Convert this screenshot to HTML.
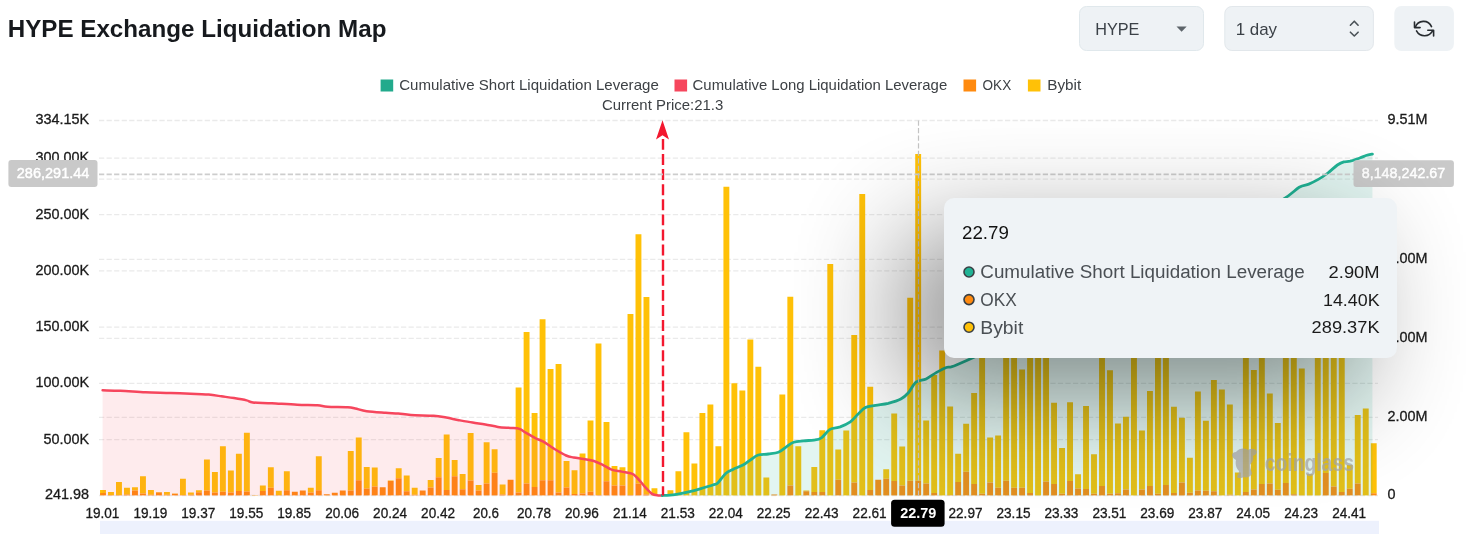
<!DOCTYPE html>
<html lang="en"><head><meta charset="utf-8"><title>HYPE Exchange Liquidation Map</title>
<style>html,body{margin:0;padding:0;background:#fff;overflow:hidden}body{width:1466px;height:534px;position:relative;font-family:'Liberation Sans', sans-serif}.tt{position:absolute;left:943.7px;top:198.4px;width:453.8px;height:159.8px;border-radius:10px;background:#EFF3F6;box-shadow:none}</style>
</head><body>
<svg width="1466" height="534" viewBox="0 0 1466 534" style="position:absolute;left:0;top:0;font-family:'Liberation Sans', sans-serif">
<defs>
<filter id="tts" filterUnits="userSpaceOnUse" x="500" y="-100" width="1300" height="900" color-interpolation-filters="sRGB">
<feGaussianBlur in="SourceAlpha" stdDeviation="55"/><feOffset dx="-40" dy="35"/>
<feComponentTransfer><feFuncA type="linear" slope="0.45"/></feComponentTransfer>
</filter>
<clipPath id="plot"><rect x="0" y="0" width="1466" height="495.7"/></clipPath>
</defs>
<rect width="1466" height="534" fill="#fff"/>
<text x="7.8" y="36.6" font-size="24" font-weight="700" fill="#16191d" textLength="378.6" lengthAdjust="spacingAndGlyphs">HYPE Exchange Liquidation Map</text>
<rect x="1079.5" y="6.5" width="124" height="44" rx="7" fill="#EEF2F5" stroke="#E0E8EC"/>
<text x="1095.2" y="34.7" font-size="16.6" fill="#3b4147" textLength="44.2" lengthAdjust="spacingAndGlyphs">HYPE</text>
<path d="M1176.5 26.4h10.2l-5.1 5.4z" fill="#5d646a"/>
<rect x="1224.8" y="6.5" width="148.6" height="44" rx="7" fill="#EEF2F5" stroke="#E2E7EB"/>
<text x="1235.7" y="35" font-size="16.6" fill="#3b4147" textLength="41.4" lengthAdjust="spacingAndGlyphs">1 day</text>
<path d="M1350.4 25.2l3.9-4 3.8 4M1350.4 32.2l3.9 3.8 3.8-3.8" fill="none" stroke="#4a5257" stroke-width="1.6" stroke-linecap="round" stroke-linejoin="round"/>
<rect x="1394.3" y="6" width="59.6" height="45" rx="7" fill="#EEF2F5"/>
<g fill="none" stroke="#272c30" stroke-width="1.6" stroke-linecap="round" stroke-linejoin="round"><path d="M1431.5 26.6A8.7 8.7 0 0 0 1415.3 27.3"/><path d="M1414.5 22v5.6h5.6"/><path d="M1416.5 30.9A9.1 9.1 0 0 0 1432.7 30.6"/><path d="M1427.8 30.3h5.8v5.7"/></g>
<rect x="380.6" y="79.5" width="12.6" height="12" fill="#22AA8C"/>
<text x="399.2" y="90.2" font-size="14.3" fill="#3d4145" textLength="259.6" lengthAdjust="spacingAndGlyphs">Cumulative Short Liquidation Leverage</text>
<rect x="674.5" y="79.5" width="12.6" height="12" fill="#F6465D"/>
<text x="692.6" y="90.2" font-size="14.3" fill="#3d4145" textLength="254.6" lengthAdjust="spacingAndGlyphs">Cumulative Long Liquidation Leverage</text>
<rect x="963.5" y="79.5" width="12.6" height="12" fill="#FF8A0F"/>
<text x="982.6" y="90.2" font-size="14.3" fill="#3d4145" textLength="28.6" lengthAdjust="spacingAndGlyphs">OKX</text>
<rect x="1027.9" y="79.5" width="12.6" height="12" fill="#FFC107"/>
<text x="1047.3" y="90.2" font-size="14.3" fill="#3d4145" textLength="33.9" lengthAdjust="spacingAndGlyphs">Bybit</text>
<text x="602" y="110" font-size="14.3" fill="#3d4145" textLength="121.2" lengthAdjust="spacingAndGlyphs">Current Price:21.3</text>
<path d="M99 120.5H1378" stroke="#EAEAEA" stroke-width="1.3" stroke-dasharray="5.25 2.3"/>
<path d="M99 158.2H1378" stroke="#EAEAEA" stroke-width="1.3" stroke-dasharray="5.25 2.3"/>
<path d="M99 214.6H1378" stroke="#EAEAEA" stroke-width="1.3" stroke-dasharray="5.25 2.3"/>
<path d="M99 270.8H1378" stroke="#EAEAEA" stroke-width="1.3" stroke-dasharray="5.25 2.3"/>
<path d="M99 327.2H1378" stroke="#EAEAEA" stroke-width="1.3" stroke-dasharray="5.25 2.3"/>
<path d="M99 383.4H1378" stroke="#EAEAEA" stroke-width="1.3" stroke-dasharray="5.25 2.3"/>
<path d="M99 439.7H1378" stroke="#EAEAEA" stroke-width="1.3" stroke-dasharray="5.25 2.3"/>
<path d="M99 495.5H1378" stroke="#EAEAEA" stroke-width="1.3" stroke-dasharray="5.25 2.3"/>
<path d="M99 179.2H1378" stroke="#EAEAEA" stroke-width="1.3" stroke-dasharray="5.25 2.3"/>
<path d="M99 259.4H1378" stroke="#EAEAEA" stroke-width="1.3" stroke-dasharray="5.25 2.3"/>
<path d="M99 338.4H1378" stroke="#EAEAEA" stroke-width="1.3" stroke-dasharray="5.25 2.3"/>
<path d="M99 417.3H1378" stroke="#EAEAEA" stroke-width="1.3" stroke-dasharray="5.25 2.3"/>
<text x="89" y="124.4" font-size="14.4" fill="#1a1a1a" stroke="#1a1a1a" stroke-width="0.3" text-anchor="end">334.15K</text>
<text x="89" y="162.1" font-size="14.4" fill="#1a1a1a" stroke="#1a1a1a" stroke-width="0.3" text-anchor="end">300.00K</text>
<text x="89" y="218.5" font-size="14.4" fill="#1a1a1a" stroke="#1a1a1a" stroke-width="0.3" text-anchor="end">250.00K</text>
<text x="89" y="274.7" font-size="14.4" fill="#1a1a1a" stroke="#1a1a1a" stroke-width="0.3" text-anchor="end">200.00K</text>
<text x="89" y="331.1" font-size="14.4" fill="#1a1a1a" stroke="#1a1a1a" stroke-width="0.3" text-anchor="end">150.00K</text>
<text x="89" y="387.3" font-size="14.4" fill="#1a1a1a" stroke="#1a1a1a" stroke-width="0.3" text-anchor="end">100.00K</text>
<text x="89" y="443.6" font-size="14.4" fill="#1a1a1a" stroke="#1a1a1a" stroke-width="0.3" text-anchor="end">50.00K</text>
<text x="89" y="499.4" font-size="14.4" fill="#1a1a1a" stroke="#1a1a1a" stroke-width="0.3" text-anchor="end">241.98</text>
<text x="1387.5" y="124.4" font-size="14.4" fill="#1a1a1a" stroke="#1a1a1a" stroke-width="0.3">9.51M</text>
<text x="1387.5" y="183.1" font-size="14.4" fill="#1a1a1a" stroke="#1a1a1a" stroke-width="0.3">8.00M</text>
<text x="1387.5" y="263.3" font-size="14.4" fill="#1a1a1a" stroke="#1a1a1a" stroke-width="0.3">6.00M</text>
<text x="1387.5" y="342.3" font-size="14.4" fill="#1a1a1a" stroke="#1a1a1a" stroke-width="0.3">4.00M</text>
<text x="1387.5" y="421.2" font-size="14.4" fill="#1a1a1a" stroke="#1a1a1a" stroke-width="0.3">2.00M</text>
<text x="1387.5" y="499.4" font-size="14.4" fill="#1a1a1a" stroke="#1a1a1a" stroke-width="0.3">0</text>
<g clip-path="url(#plot)">
<path d="M100.05 489.9h5.9V493.0h-5.9zM108.04 492.0h5.9V495.0h-5.9zM116.03 481.9h5.9V495.0h-5.9zM124.03 487.7h5.9V494.5h-5.9zM132.02 487.2h5.9V490.5h-5.9zM140.01 476.3h5.9V493.5h-5.9zM148.00 489.9h5.9V494.7h-5.9zM155.99 492.0h5.9V492.5h-5.9zM163.99 492.0h5.9V494.7h-5.9zM171.98 493.5h5.9V493.7h-5.9zM179.97 478.8h5.9V495.0h-5.9zM187.96 492.5h5.9V494.7h-5.9zM195.95 490.2h5.9V492.2h-5.9zM203.95 459.4h5.9V490.5h-5.9zM211.94 472.0h5.9V492.5h-5.9zM219.93 446.2h5.9V491.7h-5.9zM227.92 470.5h5.9V492.5h-5.9zM235.91 453.8h5.9V491.0h-5.9zM243.91 432.8h5.9V491.5h-5.9zM251.90 495.0h5.9V495.2h-5.9zM259.89 485.4h5.9V491.0h-5.9zM267.88 467.2h5.9V487.7h-5.9zM275.87 490.7h5.9V495.0h-5.9zM283.87 471.2h5.9V490.2h-5.9zM307.84 487.7h5.9V492.5h-5.9zM315.83 456.3h5.9V490.2h-5.9zM347.80 451.0h5.9V490.5h-5.9zM355.79 437.4h5.9V480.3h-5.9zM363.79 466.9h5.9V488.4h-5.9zM371.78 467.5h5.9V486.4h-5.9zM387.76 480.5h5.9V481.0h-5.9zM395.75 468.2h5.9V478.3h-5.9zM403.75 475.5h5.9V491.2h-5.9zM411.74 487.7h5.9V494.7h-5.9zM427.72 480.1h5.9V487.4h-5.9zM435.71 458.1h5.9V477.3h-5.9zM443.71 434.6h5.9V489.9h-5.9zM451.70 460.1h5.9V476.3h-5.9zM459.69 474.0h5.9V489.2h-5.9zM467.68 433.1h5.9V480.6h-5.9zM475.67 485.1h5.9V490.5h-5.9zM483.67 442.2h5.9V483.6h-5.9zM491.66 449.3h5.9V472.8h-5.9zM499.65 484.6h5.9V494.5h-5.9zM515.63 387.6h5.9V492.5h-5.9zM523.63 332.0h5.9V483.6h-5.9zM531.62 412.9h5.9V486.9h-5.9zM539.61 319.2h5.9V480.3h-5.9zM547.60 369.0h5.9V480.3h-5.9zM555.59 363.9h5.9V492.5h-5.9zM563.59 461.1h5.9V487.4h-5.9zM571.58 470.2h5.9V494.0h-5.9zM579.57 453.5h5.9V493.5h-5.9zM587.56 420.5h5.9V491.7h-5.9zM595.55 343.4h5.9V495.0h-5.9zM603.55 422.0h5.9V481.3h-5.9zM611.54 465.9h5.9V485.6h-5.9zM619.53 467.2h5.9V485.6h-5.9zM627.52 314.1h5.9V495.0h-5.9zM635.51 234.3h5.9V483.6h-5.9zM643.51 296.9h5.9V494.5h-5.9zM651.50 488.2h5.9V495.5h-5.9zM667.48 490.2h5.9V495.5h-5.9zM675.47 471.2h5.9V495.5h-5.9zM683.47 432.3h5.9V495.5h-5.9zM691.46 463.4h5.9V495.5h-5.9zM699.45 412.9h5.9V495.5h-5.9zM707.44 404.5h5.9V495.5h-5.9zM715.43 446.2h5.9V495.5h-5.9zM723.43 186.8h5.9V495.5h-5.9zM731.42 383.3h5.9V495.5h-5.9zM739.41 390.6h5.9V495.5h-5.9zM747.40 339.4h5.9V495.5h-5.9zM755.39 366.7h5.9V495.5h-5.9zM763.39 477.6h5.9V495.5h-5.9zM779.37 394.4h5.9V495.5h-5.9zM787.36 296.8h5.9V485.6h-5.9zM795.35 446.2h5.9V495.5h-5.9zM803.35 490.5h5.9V491.2h-5.9zM811.34 466.9h5.9V492.0h-5.9zM819.33 430.3h5.9V492.0h-5.9zM827.32 264.0h5.9V495.5h-5.9zM835.31 449.5h5.9V479.8h-5.9zM843.31 430.5h5.9V495.5h-5.9zM851.30 335.0h5.9V482.4h-5.9zM859.29 194.1h5.9V495.5h-5.9zM867.28 386.8h5.9V489.9h-5.9zM883.27 469.2h5.9V478.8h-5.9zM891.26 413.4h5.9V481.1h-5.9zM899.25 446.5h5.9V485.6h-5.9zM907.24 297.8h5.9V480.8h-5.9zM915.23 153.9h5.9V480.8h-5.9zM923.23 420.4h5.9V483.6h-5.9zM931.22 375.0h5.9V493.0h-5.9zM939.21 350.5h5.9V495.5h-5.9zM947.20 406.5h5.9V495.0h-5.9zM955.19 453.8h5.9V481.9h-5.9zM963.19 423.7h5.9V471.7h-5.9zM971.18 393.1h5.9V483.9h-5.9zM979.17 305.5h5.9V493.7h-5.9zM987.16 437.6h5.9V482.6h-5.9zM995.15 435.6h5.9V487.7h-5.9zM1003.15 265.5h5.9V480.8h-5.9zM1011.14 320.5h5.9V487.7h-5.9zM1019.13 369.4h5.9V487.7h-5.9zM1027.12 235.5h5.9V493.0h-5.9zM1035.11 345.5h5.9V495.5h-5.9zM1043.11 285.5h5.9V481.6h-5.9zM1051.10 402.8h5.9V483.9h-5.9zM1059.09 448.0h5.9V493.7h-5.9zM1067.08 402.2h5.9V481.1h-5.9zM1075.07 474.3h5.9V488.4h-5.9zM1083.07 406.0h5.9V488.9h-5.9zM1091.06 454.3h5.9V493.7h-5.9zM1099.05 325.5h5.9V485.9h-5.9zM1107.04 370.2h5.9V493.7h-5.9zM1115.03 423.5h5.9V493.2h-5.9zM1123.03 416.7h5.9V489.4h-5.9zM1131.02 255.5h5.9V495.5h-5.9zM1139.01 430.5h5.9V489.4h-5.9zM1147.00 390.9h5.9V485.9h-5.9zM1154.99 310.5h5.9V493.7h-5.9zM1162.99 345.5h5.9V484.9h-5.9zM1170.98 406.8h5.9V493.0h-5.9zM1178.97 417.7h5.9V482.6h-5.9zM1186.96 457.8h5.9V492.7h-5.9zM1194.95 391.6h5.9V490.5h-5.9zM1202.95 420.7h5.9V490.7h-5.9zM1210.94 380.0h5.9V491.2h-5.9zM1218.93 389.4h5.9V495.5h-5.9zM1226.92 404.5h5.9V494.7h-5.9zM1234.91 472.5h5.9V495.5h-5.9zM1242.91 330.5h5.9V492.0h-5.9zM1250.90 369.9h5.9V489.4h-5.9zM1258.89 275.5h5.9V484.1h-5.9zM1266.88 393.4h5.9V483.6h-5.9zM1274.87 423.0h5.9V489.7h-5.9zM1282.87 315.5h5.9V483.1h-5.9zM1290.86 245.5h5.9V494.2h-5.9zM1298.85 368.6h5.9V495.5h-5.9zM1306.84 474.1h5.9V495.5h-5.9zM1314.83 335.5h5.9V495.5h-5.9zM1322.83 295.5h5.9V473.0h-5.9zM1330.82 225.5h5.9V486.4h-5.9zM1338.81 320.5h5.9V492.0h-5.9zM1346.80 465.1h5.9V488.7h-5.9zM1354.79 414.9h5.9V483.6h-5.9zM1362.79 408.6h5.9V495.5h-5.9zM1370.78 443.2h5.9V493.2h-5.9z" fill="#FFC107"/>
<path d="M100.05 493.0h5.9V495.5h-5.9zM108.04 495.0h5.9V495.5h-5.9zM116.03 495.0h5.9V495.5h-5.9zM124.03 494.5h5.9V495.5h-5.9zM132.02 490.5h5.9V495.5h-5.9zM140.01 493.5h5.9V495.5h-5.9zM148.00 494.7h5.9V495.5h-5.9zM155.99 492.5h5.9V495.5h-5.9zM163.99 494.7h5.9V495.5h-5.9zM171.98 493.7h5.9V495.5h-5.9zM179.97 495.0h5.9V495.5h-5.9zM187.96 494.7h5.9V495.5h-5.9zM195.95 492.2h5.9V495.5h-5.9zM203.95 490.5h5.9V495.5h-5.9zM211.94 492.5h5.9V495.5h-5.9zM219.93 491.7h5.9V495.5h-5.9zM227.92 492.5h5.9V495.5h-5.9zM235.91 491.0h5.9V495.5h-5.9zM243.91 491.5h5.9V495.5h-5.9zM251.90 495.2h5.9V495.5h-5.9zM259.89 491.0h5.9V495.5h-5.9zM267.88 487.7h5.9V495.5h-5.9zM275.87 495.0h5.9V495.5h-5.9zM283.87 490.2h5.9V495.5h-5.9zM291.86 491.7h5.9V495.5h-5.9zM299.85 490.5h5.9V495.5h-5.9zM307.84 492.5h5.9V495.5h-5.9zM315.83 490.2h5.9V495.5h-5.9zM323.83 494.3h5.9V495.5h-5.9zM331.82 492.7h5.9V495.5h-5.9zM339.81 490.5h5.9V495.5h-5.9zM347.80 490.5h5.9V495.5h-5.9zM355.79 480.3h5.9V495.5h-5.9zM363.79 488.4h5.9V495.5h-5.9zM371.78 486.4h5.9V495.5h-5.9zM379.77 487.2h5.9V495.5h-5.9zM387.76 481.0h5.9V495.5h-5.9zM395.75 478.3h5.9V495.5h-5.9zM403.75 491.2h5.9V495.5h-5.9zM411.74 494.7h5.9V495.5h-5.9zM419.73 490.5h5.9V495.5h-5.9zM427.72 487.4h5.9V495.5h-5.9zM435.71 477.3h5.9V495.5h-5.9zM443.71 489.9h5.9V495.5h-5.9zM451.70 476.3h5.9V495.5h-5.9zM459.69 489.2h5.9V495.5h-5.9zM467.68 480.6h5.9V495.5h-5.9zM475.67 490.5h5.9V495.5h-5.9zM483.67 483.6h5.9V495.5h-5.9zM491.66 472.8h5.9V495.5h-5.9zM499.65 494.5h5.9V495.5h-5.9zM507.64 479.8h5.9V495.5h-5.9zM515.63 492.5h5.9V495.5h-5.9zM523.63 483.6h5.9V495.5h-5.9zM531.62 486.9h5.9V495.5h-5.9zM539.61 480.3h5.9V495.5h-5.9zM547.60 480.3h5.9V495.5h-5.9zM555.59 492.5h5.9V495.5h-5.9zM563.59 487.4h5.9V495.5h-5.9zM571.58 494.0h5.9V495.5h-5.9zM579.57 493.5h5.9V495.5h-5.9zM587.56 491.7h5.9V495.5h-5.9zM595.55 495.0h5.9V495.5h-5.9zM603.55 481.3h5.9V495.5h-5.9zM611.54 485.6h5.9V495.5h-5.9zM619.53 485.6h5.9V495.5h-5.9zM627.52 495.0h5.9V495.5h-5.9zM635.51 483.6h5.9V495.5h-5.9zM643.51 494.5h5.9V495.5h-5.9zM771.38 494.5h5.9V495.5h-5.9zM787.36 485.6h5.9V495.5h-5.9zM803.35 491.2h5.9V495.5h-5.9zM811.34 492.0h5.9V495.5h-5.9zM819.33 492.0h5.9V495.5h-5.9zM835.31 479.8h5.9V495.5h-5.9zM851.30 482.4h5.9V495.5h-5.9zM867.28 489.9h5.9V495.5h-5.9zM875.27 479.8h5.9V495.5h-5.9zM883.27 478.8h5.9V495.5h-5.9zM891.26 481.1h5.9V495.5h-5.9zM899.25 485.6h5.9V495.5h-5.9zM907.24 480.8h5.9V495.5h-5.9zM915.23 480.8h5.9V495.5h-5.9zM923.23 483.6h5.9V495.5h-5.9zM931.22 493.0h5.9V495.5h-5.9zM947.20 495.0h5.9V495.5h-5.9zM955.19 481.9h5.9V495.5h-5.9zM963.19 471.7h5.9V495.5h-5.9zM971.18 483.9h5.9V495.5h-5.9zM979.17 493.7h5.9V495.5h-5.9zM987.16 482.6h5.9V495.5h-5.9zM995.15 487.7h5.9V495.5h-5.9zM1003.15 480.8h5.9V495.5h-5.9zM1011.14 487.7h5.9V495.5h-5.9zM1019.13 487.7h5.9V495.5h-5.9zM1027.12 493.0h5.9V495.5h-5.9zM1043.11 481.6h5.9V495.5h-5.9zM1051.10 483.9h5.9V495.5h-5.9zM1059.09 493.7h5.9V495.5h-5.9zM1067.08 481.1h5.9V495.5h-5.9zM1075.07 488.4h5.9V495.5h-5.9zM1083.07 488.9h5.9V495.5h-5.9zM1091.06 493.7h5.9V495.5h-5.9zM1099.05 485.9h5.9V495.5h-5.9zM1107.04 493.7h5.9V495.5h-5.9zM1115.03 493.2h5.9V495.5h-5.9zM1123.03 489.4h5.9V495.5h-5.9zM1139.01 489.4h5.9V495.5h-5.9zM1147.00 485.9h5.9V495.5h-5.9zM1154.99 493.7h5.9V495.5h-5.9zM1162.99 484.9h5.9V495.5h-5.9zM1170.98 493.0h5.9V495.5h-5.9zM1178.97 482.6h5.9V495.5h-5.9zM1186.96 492.7h5.9V495.5h-5.9zM1194.95 490.5h5.9V495.5h-5.9zM1202.95 490.7h5.9V495.5h-5.9zM1210.94 491.2h5.9V495.5h-5.9zM1226.92 494.7h5.9V495.5h-5.9zM1242.91 492.0h5.9V495.5h-5.9zM1250.90 489.4h5.9V495.5h-5.9zM1258.89 484.1h5.9V495.5h-5.9zM1266.88 483.6h5.9V495.5h-5.9zM1274.87 489.7h5.9V495.5h-5.9zM1282.87 483.1h5.9V495.5h-5.9zM1290.86 494.2h5.9V495.5h-5.9zM1322.83 473.0h5.9V495.5h-5.9zM1330.82 486.4h5.9V495.5h-5.9zM1338.81 492.0h5.9V495.5h-5.9zM1346.80 488.7h5.9V495.5h-5.9zM1354.79 483.6h5.9V495.5h-5.9zM1370.78 493.2h5.9V495.5h-5.9z" fill="#FF8A0F"/>
</g>
<path d="M102.6 390.3C105.5 390.4 113.1 390.5 120.3 390.8C127.5 391.1 137.1 391.9 145.5 392.3C153.9 392.7 162.4 392.7 170.8 393.0C179.2 393.3 189.8 393.7 196.1 394.0C202.4 394.3 204.5 394.2 208.7 394.6C212.9 395.0 217.2 395.7 221.4 396.3C225.6 396.9 229.8 397.4 234.0 398.1C238.2 398.8 243.4 399.7 246.6 400.4C249.8 401.1 248.7 401.9 252.9 402.4C257.1 402.9 264.5 402.8 271.9 403.2C279.3 403.6 289.6 404.4 297.2 404.7C304.8 405.0 312.3 404.9 317.4 405.2C322.4 405.5 322.4 406.4 327.5 406.7C332.6 407.0 343.1 406.9 347.7 407.2C352.3 407.5 352.1 407.8 355.3 408.5C358.5 409.2 361.6 410.5 366.7 411.2C371.8 411.9 380.3 412.4 385.6 412.8C390.9 413.2 394.1 413.1 398.3 413.5C402.5 413.9 405.0 414.6 410.9 415.0C416.8 415.4 427.7 415.4 433.6 415.8C439.5 416.2 442.1 416.9 446.3 417.6C450.5 418.3 454.5 419.4 458.9 420.2C463.3 421.0 468.2 421.9 472.6 422.6C477.0 423.3 481.1 423.7 485.3 424.4C489.5 425.1 493.7 426.3 497.9 426.9C502.1 427.5 506.9 427.6 510.5 427.9C514.1 428.2 516.9 428.1 519.4 428.9C521.9 429.7 523.0 431.1 525.7 432.7C528.4 434.3 532.8 436.8 535.8 438.3C538.8 439.8 540.4 439.9 543.4 441.6C546.4 443.3 549.7 446.1 553.5 448.4C557.3 450.7 562.7 454.0 566.1 455.5C569.5 457.0 570.8 456.9 573.7 457.5C576.7 458.1 580.4 458.4 583.8 459.0C587.2 459.6 590.5 459.9 593.9 461.0C597.3 462.1 601.0 464.2 604.0 465.6C607.0 467.0 608.6 468.6 611.6 469.6C614.6 470.6 618.3 470.9 621.7 471.6C625.1 472.3 629.3 472.7 631.8 473.7C634.3 474.7 634.8 475.4 636.9 477.5C639.0 479.6 642.0 483.6 644.5 486.3C647.0 489.0 649.8 492.4 652.1 493.9C654.4 495.4 656.7 495.2 658.4 495.5C660.1 495.8 661.6 495.5 662.2 495.5L662.2 495.5L102.6 495.5z" fill="#F6465D" fill-opacity="0.11"/>
<path d="M102.6 390.3C105.5 390.4 113.1 390.5 120.3 390.8C127.5 391.1 137.1 391.9 145.5 392.3C153.9 392.7 162.4 392.7 170.8 393.0C179.2 393.3 189.8 393.7 196.1 394.0C202.4 394.3 204.5 394.2 208.7 394.6C212.9 395.0 217.2 395.7 221.4 396.3C225.6 396.9 229.8 397.4 234.0 398.1C238.2 398.8 243.4 399.7 246.6 400.4C249.8 401.1 248.7 401.9 252.9 402.4C257.1 402.9 264.5 402.8 271.9 403.2C279.3 403.6 289.6 404.4 297.2 404.7C304.8 405.0 312.3 404.9 317.4 405.2C322.4 405.5 322.4 406.4 327.5 406.7C332.6 407.0 343.1 406.9 347.7 407.2C352.3 407.5 352.1 407.8 355.3 408.5C358.5 409.2 361.6 410.5 366.7 411.2C371.8 411.9 380.3 412.4 385.6 412.8C390.9 413.2 394.1 413.1 398.3 413.5C402.5 413.9 405.0 414.6 410.9 415.0C416.8 415.4 427.7 415.4 433.6 415.8C439.5 416.2 442.1 416.9 446.3 417.6C450.5 418.3 454.5 419.4 458.9 420.2C463.3 421.0 468.2 421.9 472.6 422.6C477.0 423.3 481.1 423.7 485.3 424.4C489.5 425.1 493.7 426.3 497.9 426.9C502.1 427.5 506.9 427.6 510.5 427.9C514.1 428.2 516.9 428.1 519.4 428.9C521.9 429.7 523.0 431.1 525.7 432.7C528.4 434.3 532.8 436.8 535.8 438.3C538.8 439.8 540.4 439.9 543.4 441.6C546.4 443.3 549.7 446.1 553.5 448.4C557.3 450.7 562.7 454.0 566.1 455.5C569.5 457.0 570.8 456.9 573.7 457.5C576.7 458.1 580.4 458.4 583.8 459.0C587.2 459.6 590.5 459.9 593.9 461.0C597.3 462.1 601.0 464.2 604.0 465.6C607.0 467.0 608.6 468.6 611.6 469.6C614.6 470.6 618.3 470.9 621.7 471.6C625.1 472.3 629.3 472.7 631.8 473.7C634.3 474.7 634.8 475.4 636.9 477.5C639.0 479.6 642.0 483.6 644.5 486.3C647.0 489.0 649.8 492.4 652.1 493.9C654.4 495.4 656.7 495.2 658.4 495.5C660.1 495.8 661.6 495.5 662.2 495.5" fill="none" stroke="#F6465D" stroke-width="2.5" stroke-linejoin="round" stroke-linecap="round"/>
<path d="M662.2 495.5C664.3 495.4 670.6 495.2 674.8 494.6C679.0 494.0 683.2 493.1 687.4 492.1C691.6 491.1 695.9 490.0 700.1 488.8C704.3 487.6 709.8 486.0 712.7 485.0C715.7 484.0 715.7 484.9 717.8 483.0C719.9 481.1 722.9 476.0 725.4 473.7C727.9 471.4 730.0 470.8 732.9 469.4C735.8 468.0 740.0 466.7 743.0 465.1C746.0 463.5 748.1 461.5 750.6 459.8C753.1 458.1 755.2 456.0 758.2 455.0C761.2 454.0 764.9 454.5 768.3 454.0C771.7 453.5 775.4 453.3 778.4 452.2C781.4 451.1 783.5 448.8 786.0 447.1C788.5 445.5 790.6 443.4 793.6 442.3C796.6 441.2 800.3 441.2 803.7 440.8C807.1 440.4 810.8 440.6 813.8 440.1C816.8 439.6 818.7 439.6 821.4 437.8C824.1 436.0 826.9 431.2 830.0 429.4C833.1 427.6 836.8 428.1 840.2 426.9C843.6 425.6 847.3 424.0 850.3 421.9C853.2 419.8 855.4 416.7 857.9 414.3C860.4 411.9 862.5 409.0 865.4 407.5C868.3 406.0 871.7 406.1 875.5 405.4C879.3 404.7 884.0 404.4 888.2 403.4C892.4 402.3 897.4 400.9 900.8 399.1C904.2 397.3 905.9 395.6 908.4 392.8C910.9 390.0 913.0 384.5 916.0 382.2C919.0 379.9 922.7 380.5 926.1 378.9C929.5 377.3 932.8 374.5 936.2 372.6C939.6 370.7 942.9 368.8 946.3 367.5C949.7 366.2 947.4 368.8 956.4 365.0C965.4 361.2 984.4 352.5 1000.0 345.0C1015.6 337.5 1033.3 328.3 1050.0 320.0C1066.7 311.7 1083.3 304.2 1100.0 295.0C1116.7 285.8 1133.3 274.2 1150.0 265.0C1166.7 255.8 1183.3 248.3 1200.0 240.0C1216.7 231.7 1236.1 221.8 1250.0 215.0C1263.9 208.2 1275.1 203.7 1283.3 199.1C1291.5 194.5 1295.0 189.8 1299.2 187.3C1303.5 184.8 1305.6 185.4 1308.8 184.1C1312.0 182.8 1315.1 181.2 1318.3 179.4C1321.5 177.6 1324.7 175.4 1327.9 173.0C1331.1 170.6 1334.8 166.8 1337.4 165.0C1340.1 163.2 1341.7 162.5 1343.8 161.9C1345.9 161.3 1347.4 161.8 1350.1 161.2C1352.8 160.5 1357.0 158.9 1359.7 158.0C1362.4 157.1 1363.9 156.2 1366.0 155.5C1368.1 154.8 1371.3 154.3 1372.4 154.1L1372.4 495.5L662.2 495.5z" fill="#20B294" fill-opacity="0.13"/>
<path d="M662.2 495.5C664.3 495.4 670.6 495.2 674.8 494.6C679.0 494.0 683.2 493.1 687.4 492.1C691.6 491.1 695.9 490.0 700.1 488.8C704.3 487.6 709.8 486.0 712.7 485.0C715.7 484.0 715.7 484.9 717.8 483.0C719.9 481.1 722.9 476.0 725.4 473.7C727.9 471.4 730.0 470.8 732.9 469.4C735.8 468.0 740.0 466.7 743.0 465.1C746.0 463.5 748.1 461.5 750.6 459.8C753.1 458.1 755.2 456.0 758.2 455.0C761.2 454.0 764.9 454.5 768.3 454.0C771.7 453.5 775.4 453.3 778.4 452.2C781.4 451.1 783.5 448.8 786.0 447.1C788.5 445.5 790.6 443.4 793.6 442.3C796.6 441.2 800.3 441.2 803.7 440.8C807.1 440.4 810.8 440.6 813.8 440.1C816.8 439.6 818.7 439.6 821.4 437.8C824.1 436.0 826.9 431.2 830.0 429.4C833.1 427.6 836.8 428.1 840.2 426.9C843.6 425.6 847.3 424.0 850.3 421.9C853.2 419.8 855.4 416.7 857.9 414.3C860.4 411.9 862.5 409.0 865.4 407.5C868.3 406.0 871.7 406.1 875.5 405.4C879.3 404.7 884.0 404.4 888.2 403.4C892.4 402.3 897.4 400.9 900.8 399.1C904.2 397.3 905.9 395.6 908.4 392.8C910.9 390.0 913.0 384.5 916.0 382.2C919.0 379.9 922.7 380.5 926.1 378.9C929.5 377.3 932.8 374.5 936.2 372.6C939.6 370.7 942.9 368.8 946.3 367.5C949.7 366.2 947.4 368.8 956.4 365.0C965.4 361.2 984.4 352.5 1000.0 345.0C1015.6 337.5 1033.3 328.3 1050.0 320.0C1066.7 311.7 1083.3 304.2 1100.0 295.0C1116.7 285.8 1133.3 274.2 1150.0 265.0C1166.7 255.8 1183.3 248.3 1200.0 240.0C1216.7 231.7 1236.1 221.8 1250.0 215.0C1263.9 208.2 1275.1 203.7 1283.3 199.1C1291.5 194.5 1295.0 189.8 1299.2 187.3C1303.5 184.8 1305.6 185.4 1308.8 184.1C1312.0 182.8 1315.1 181.2 1318.3 179.4C1321.5 177.6 1324.7 175.4 1327.9 173.0C1331.1 170.6 1334.8 166.8 1337.4 165.0C1340.1 163.2 1341.7 162.5 1343.8 161.9C1345.9 161.3 1347.4 161.8 1350.1 161.2C1352.8 160.5 1357.0 158.9 1359.7 158.0C1362.4 157.1 1363.9 156.2 1366.0 155.5C1368.1 154.8 1371.3 154.3 1372.4 154.1" fill="none" stroke="#20B294" stroke-width="2.8" stroke-linejoin="round" stroke-linecap="round"/>
<path d="M663 138.9V495.5" stroke="#F3182F" stroke-width="2.4" stroke-dasharray="10.95 4.15" fill="none"/>
<path d="M662.5 120.3l6.5 19.3-6.5-4.3-6.5 4.3z" fill="#F3182F"/>
<path d="M99 174.4H1378" stroke="#CDCDCD" stroke-width="1.8" stroke-dasharray="5.25 2.3"/>
<path d="M918.5 120.5V495.5" stroke="#C4C4C4" stroke-width="1.2" stroke-dasharray="5.25 2.3"/>
<g opacity="0.72" fill="#a8a8a8"><path d="M1236 452c3-4 9-4.5 12-2 3-2 8-1.5 9 2-1 3-3 3.5-4 4 1 4-1 7-3 9 0 4 2 6 2 9-2 3-5 4-8 3-2 1-5 2-7 0 1-3 2-4 2-6-3-3-4-7-3-11-2-1-4-3-4-5 0-2 2-3 4-3z"/><text x="1264.7" y="470.9" font-size="23.5" font-weight="700" textLength="89.2" lengthAdjust="spacingAndGlyphs">coinglass</text></g>
<text x="102.4" y="517.8" font-size="14" fill="#1a1a1a" stroke="#1a1a1a" stroke-width="0.3" text-anchor="middle" textLength="34" lengthAdjust="spacingAndGlyphs">19.01</text>
<text x="150.4" y="517.8" font-size="14" fill="#1a1a1a" stroke="#1a1a1a" stroke-width="0.3" text-anchor="middle" textLength="34" lengthAdjust="spacingAndGlyphs">19.19</text>
<text x="198.3" y="517.8" font-size="14" fill="#1a1a1a" stroke="#1a1a1a" stroke-width="0.3" text-anchor="middle" textLength="34" lengthAdjust="spacingAndGlyphs">19.37</text>
<text x="246.3" y="517.8" font-size="14" fill="#1a1a1a" stroke="#1a1a1a" stroke-width="0.3" text-anchor="middle" textLength="34" lengthAdjust="spacingAndGlyphs">19.55</text>
<text x="294.2" y="517.8" font-size="14" fill="#1a1a1a" stroke="#1a1a1a" stroke-width="0.3" text-anchor="middle" textLength="34" lengthAdjust="spacingAndGlyphs">19.85</text>
<text x="342.2" y="517.8" font-size="14" fill="#1a1a1a" stroke="#1a1a1a" stroke-width="0.3" text-anchor="middle" textLength="34" lengthAdjust="spacingAndGlyphs">20.06</text>
<text x="390.1" y="517.8" font-size="14" fill="#1a1a1a" stroke="#1a1a1a" stroke-width="0.3" text-anchor="middle" textLength="34" lengthAdjust="spacingAndGlyphs">20.24</text>
<text x="438.1" y="517.8" font-size="14" fill="#1a1a1a" stroke="#1a1a1a" stroke-width="0.3" text-anchor="middle" textLength="34" lengthAdjust="spacingAndGlyphs">20.42</text>
<text x="486.0" y="517.8" font-size="14" fill="#1a1a1a" stroke="#1a1a1a" stroke-width="0.3" text-anchor="middle" textLength="26" lengthAdjust="spacingAndGlyphs">20.6</text>
<text x="534.0" y="517.8" font-size="14" fill="#1a1a1a" stroke="#1a1a1a" stroke-width="0.3" text-anchor="middle" textLength="34" lengthAdjust="spacingAndGlyphs">20.78</text>
<text x="581.9" y="517.8" font-size="14" fill="#1a1a1a" stroke="#1a1a1a" stroke-width="0.3" text-anchor="middle" textLength="34" lengthAdjust="spacingAndGlyphs">20.96</text>
<text x="629.9" y="517.8" font-size="14" fill="#1a1a1a" stroke="#1a1a1a" stroke-width="0.3" text-anchor="middle" textLength="34" lengthAdjust="spacingAndGlyphs">21.14</text>
<text x="677.8" y="517.8" font-size="14" fill="#1a1a1a" stroke="#1a1a1a" stroke-width="0.3" text-anchor="middle" textLength="34" lengthAdjust="spacingAndGlyphs">21.53</text>
<text x="725.8" y="517.8" font-size="14" fill="#1a1a1a" stroke="#1a1a1a" stroke-width="0.3" text-anchor="middle" textLength="34" lengthAdjust="spacingAndGlyphs">22.04</text>
<text x="773.7" y="517.8" font-size="14" fill="#1a1a1a" stroke="#1a1a1a" stroke-width="0.3" text-anchor="middle" textLength="34" lengthAdjust="spacingAndGlyphs">22.25</text>
<text x="821.7" y="517.8" font-size="14" fill="#1a1a1a" stroke="#1a1a1a" stroke-width="0.3" text-anchor="middle" textLength="34" lengthAdjust="spacingAndGlyphs">22.43</text>
<text x="869.6" y="517.8" font-size="14" fill="#1a1a1a" stroke="#1a1a1a" stroke-width="0.3" text-anchor="middle" textLength="34" lengthAdjust="spacingAndGlyphs">22.61</text>
<text x="917.6" y="517.8" font-size="14" fill="#1a1a1a" stroke="#1a1a1a" stroke-width="0.3" text-anchor="middle" textLength="34" lengthAdjust="spacingAndGlyphs">22.79</text>
<text x="965.5" y="517.8" font-size="14" fill="#1a1a1a" stroke="#1a1a1a" stroke-width="0.3" text-anchor="middle" textLength="34" lengthAdjust="spacingAndGlyphs">22.97</text>
<text x="1013.5" y="517.8" font-size="14" fill="#1a1a1a" stroke="#1a1a1a" stroke-width="0.3" text-anchor="middle" textLength="34" lengthAdjust="spacingAndGlyphs">23.15</text>
<text x="1061.4" y="517.8" font-size="14" fill="#1a1a1a" stroke="#1a1a1a" stroke-width="0.3" text-anchor="middle" textLength="34" lengthAdjust="spacingAndGlyphs">23.33</text>
<text x="1109.4" y="517.8" font-size="14" fill="#1a1a1a" stroke="#1a1a1a" stroke-width="0.3" text-anchor="middle" textLength="34" lengthAdjust="spacingAndGlyphs">23.51</text>
<text x="1157.3" y="517.8" font-size="14" fill="#1a1a1a" stroke="#1a1a1a" stroke-width="0.3" text-anchor="middle" textLength="34" lengthAdjust="spacingAndGlyphs">23.69</text>
<text x="1205.3" y="517.8" font-size="14" fill="#1a1a1a" stroke="#1a1a1a" stroke-width="0.3" text-anchor="middle" textLength="34" lengthAdjust="spacingAndGlyphs">23.87</text>
<text x="1253.2" y="517.8" font-size="14" fill="#1a1a1a" stroke="#1a1a1a" stroke-width="0.3" text-anchor="middle" textLength="34" lengthAdjust="spacingAndGlyphs">24.05</text>
<text x="1301.2" y="517.8" font-size="14" fill="#1a1a1a" stroke="#1a1a1a" stroke-width="0.3" text-anchor="middle" textLength="34" lengthAdjust="spacingAndGlyphs">24.23</text>
<text x="1349.2" y="517.8" font-size="14" fill="#1a1a1a" stroke="#1a1a1a" stroke-width="0.3" text-anchor="middle" textLength="34" lengthAdjust="spacingAndGlyphs">24.41</text>
<rect x="100" y="520.8" width="1279" height="14" fill="#EDF1FD"/>
<rect x="8.4" y="160" width="89.1" height="27" rx="3" fill="#C9C9C9"/>
<text x="16.8" y="178.2" font-size="15" fill="#fff" stroke="#fff" stroke-width="0.45" textLength="72.6" lengthAdjust="spacingAndGlyphs">286,291.44</text>
<rect x="1353.5" y="160.2" width="100.4" height="26.8" rx="3" fill="#C9C9C9"/>
<text x="1361.7" y="178.2" font-size="15" fill="#fff" stroke="#fff" stroke-width="0.45" textLength="83.6" lengthAdjust="spacingAndGlyphs">8,148,242.67</text>
<rect x="891.1" y="499.8" width="53.5" height="27" rx="3.5" fill="#000"/>
<text x="900.2" y="518.2" font-size="15" font-weight="700" fill="#fff" textLength="36.2" lengthAdjust="spacingAndGlyphs">22.79</text>
<rect x="943.7" y="198.4" width="453.8" height="159.8" rx="10" fill="#000" filter="url(#tts)"/>
</svg>
<div class="tt"></div>
<svg width="1466" height="534" viewBox="0 0 1466 534" style="position:absolute;left:0;top:0;font-family:'Liberation Sans', sans-serif">
<text x="962" y="239.4" font-size="19" fill="#111" textLength="46.8" lengthAdjust="spacingAndGlyphs">22.79</text>
<circle cx="969" cy="272" r="5" fill="#20B294" stroke="#3a3f44" stroke-width="1.6"/>
<text x="980.3" y="278.3" font-size="17.6" fill="#4a4f54" textLength="324.4" lengthAdjust="spacingAndGlyphs">Cumulative Short Liquidation Leverage</text>
<text x="1379.6" y="278.1" font-size="17.2" fill="#1a1a1a" text-anchor="end" textLength="51" lengthAdjust="spacingAndGlyphs">2.90M</text>
<circle cx="969" cy="299.6" r="5" fill="#FF8A0F" stroke="#3a3f44" stroke-width="1.6"/>
<text x="980.3" y="305.9" font-size="17.6" fill="#4a4f54" textLength="36.5" lengthAdjust="spacingAndGlyphs">OKX</text>
<text x="1379.6" y="305.7" font-size="17.2" fill="#1a1a1a" text-anchor="end" textLength="56.6" lengthAdjust="spacingAndGlyphs">14.40K</text>
<circle cx="969" cy="327.2" r="5" fill="#FFC107" stroke="#3a3f44" stroke-width="1.6"/>
<text x="980.3" y="333.5" font-size="17.6" fill="#4a4f54" textLength="43" lengthAdjust="spacingAndGlyphs">Bybit</text>
<text x="1379.6" y="333.3" font-size="17.2" fill="#1a1a1a" text-anchor="end" textLength="68" lengthAdjust="spacingAndGlyphs">289.37K</text>
</svg>
</body></html>
